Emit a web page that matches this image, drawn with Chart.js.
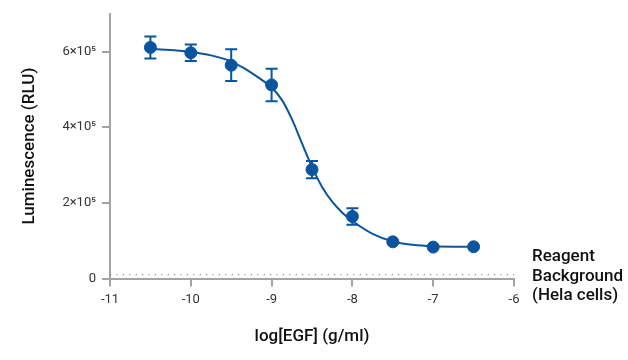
<!DOCTYPE html>
<html>
<head>
<meta charset="utf-8">
<script src="https://cdn.jsdelivr.net/npm/chart.js@4"></script>
<style>
  html, body { margin: 0; padding: 0; background: #fff; }
  #wrap { width: 628px; height: 360px; }
</style>
</head>
<body>
<div id="wrap"><canvas id="chart" width="628" height="360"></canvas></div>
<script>
// measured points (mean +/- error), log[EGF] in g/ml
const doses = [-10.5, -10, -9.5, -9, -8.5, -8, -7.5, -7, -6.5];
const means = [611000, 597000, 564000, 512000, 288000, 164000, 97000, 83000, 84000];
const errors = [29000, 22000, 42000, 43000, 23000, 22000, 0, 0, 0];

// fitted curve
const curveX = [-10.5, -10.25, -10, -9.75, -9.5, -9.375, -9.25, -9.125, -9, -8.875, -8.75, -8.625, -8.5, -8.375, -8.25, -8.125, -8, -7.75, -7.5, -7.25, -7, -6.75, -6.5];
const curveY = [607000, 604000, 599000, 590000, 574000, 560000, 544000, 526000, 505000, 473000, 422000, 358000, 295000, 242000, 203000, 174000, 152000, 118000, 98000, 89000, 85000, 84000, 84000];

// reagent background level (dotted line)
const backgroundLevel = 10000;
const backgroundLabel = ['Reagent', 'Background', '(Hela cells)'];

const xTicks = [-11, -10, -9, -8, -7, -6];
const yTicks = [0, 200000, 400000, 600000];

const blue = '#0a559e';
const axisGrey = '#a3a3a3';

const errorBars = {
    id: 'errorBars',
    afterDatasetsDraw(chart) {
        const ctx = chart.ctx;
        const xs = chart.scales.x, ys = chart.scales.y;
        ctx.save();
        ctx.strokeStyle = blue;
        ctx.lineWidth = 2;
        doses.forEach((d, i) => {
            if (!errors[i]) return;
            const px = xs.getPixelForValue(d);
            const top = ys.getPixelForValue(means[i] + errors[i]);
            const bot = ys.getPixelForValue(means[i] - errors[i]);
            ctx.beginPath();
            ctx.moveTo(px, top); ctx.lineTo(px, bot);
            ctx.moveTo(px - 6, top); ctx.lineTo(px + 6, top);
            ctx.moveTo(px - 6, bot); ctx.lineTo(px + 6, bot);
            ctx.stroke();
        });
        // label for the background line
        const area = chart.chartArea;
        const yb = ys.getPixelForValue(backgroundLevel);
        ctx.fillStyle = '#111';
        ctx.font = '500 17px Roboto';
        ctx.textBaseline = 'middle';
        ctx.textAlign = 'left';
        backgroundLabel.forEach((t, i) => {
            ctx.fillText(t, area.right + 18, yb + 2 + (i - 1) * 19.5);
        });
        ctx.restore();
    }
};

new Chart(document.getElementById('chart'), {
    type: 'scatter',
    data: {
        datasets: [
            {
                label: 'Background',
                type: 'line',
                data: [{x: -11, y: backgroundLevel}, {x: -6, y: backgroundLevel}],
                borderColor: '#8a8a8a',
                borderWidth: 1.2,
                borderDash: [1.2, 5.2],
                pointRadius: 0,
                fill: false
            },
            {
                label: 'Fit',
                type: 'line',
                data: curveX.map((x, i) => ({x: x, y: curveY[i]})),
                borderColor: blue,
                borderWidth: 2,
                pointRadius: 0,
                cubicInterpolationMode: 'monotone',
                fill: false
            },
            {
                label: 'Luminescence',
                data: doses.map((d, i) => ({x: d, y: means[i]})),
                backgroundColor: blue,
                borderColor: blue,
                pointRadius: 6,
                pointHoverRadius: 6
            }
        ]
    },
    options: {
        responsive: false,
        animation: false,
        events: [],
        layout: { padding: { top: 7, right: 114, bottom: 0, left: 0 } },
        plugins: {
            legend: { display: false },
            tooltip: { enabled: false }
        },
        scales: {
            x: {
                type: 'linear',
                min: -11,
                max: -6,
                afterBuildTicks: (s) => { s.ticks = xTicks.map(v => ({value: v})); },
                afterFit: (s) => { s.height = 81.5; },
                border: { display: true, color: axisGrey, width: 2 },
                grid: { drawOnChartArea: false, drawTicks: true, tickLength: 8, color: axisGrey, lineWidth: 2 },
                ticks: {
                    color: '#333',
                    padding: 5,
                    font: { family: 'Roboto', size: 13 },
                    callback: (v) => String(v)
                },
                title: {
                    display: true,
                    text: 'log[EGF] (g/ml)',
                    color: '#111',
                    font: { family: 'Roboto', size: 17, weight: '500' },
                    padding: { top: 0, bottom: 13 }
                }
            },
            y: {
                type: 'linear',
                min: 0,
                max: 700000,
                afterBuildTicks: (s) => { s.ticks = yTicks.map(v => ({value: v})); },
                afterFit: (s) => { s.width = 110; },
                border: { display: true, color: axisGrey, width: 2 },
                grid: { drawOnChartArea: false, drawTicks: true, tickLength: 8, color: axisGrey, lineWidth: 2 },
                ticks: {
                    color: '#333',
                    padding: 6,
                    font: { family: 'Roboto', size: 13 },
                    callback: (v) => v === 0 ? '0' : (v / 100000) + '×10⁵'
                },
                title: {
                    display: true,
                    text: 'Luminescence (RLU)',
                    color: '#111',
                    font: { family: 'Roboto', size: 17, weight: '500' },
                    padding: { top: 20, bottom: 0 }
                }
            }
        }
    },
    plugins: [errorBars]
});
</script>
</body>
</html>
